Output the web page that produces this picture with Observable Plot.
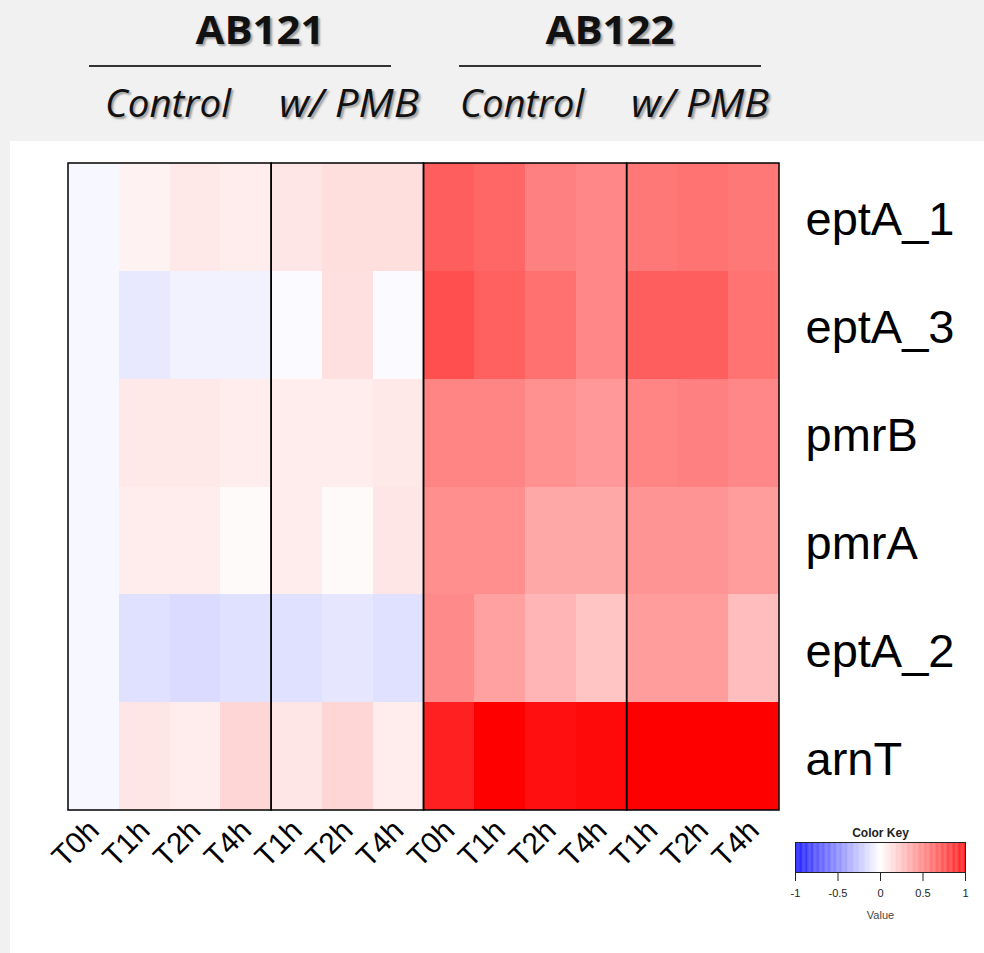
<!DOCTYPE html>
<html>
<head>
<meta charset="utf-8">
<script src="https://cdn.jsdelivr.net/npm/d3@7"></script>
<script src="https://cdn.jsdelivr.net/npm/@observablehq/plot@0.6"></script>
<style>
  html, body { margin: 0; padding: 0; background: #f1f1f1; width: 984px; height: 953px; overflow: hidden; }
  #header { position: absolute; left: 0; top: 0; }
  #header text { font-family: "Open Sans", sans-serif; fill: #111; text-shadow: 2px 2px 2px rgba(0,0,0,0.35); }
  #panel { position: absolute; left: 10px; top: 141px; width: 974px; height: 812px; background: #fff; }
  #key { position: absolute; left: 770px; top: 671px; }
</style>
</head>
<body>
<svg id="header" width="984" height="141"></svg>
<div id="panel"><div id="main"></div><div id="key"></div></div>
<script>
// ---- data ----
const strains = ["AB121", "AB122"];
const conditions = ["Control", "w/ PMB", "Control", "w/ PMB"];
const columns = ["T0h", "T1h", "T2h", "T4h", "T1h", "T2h", "T4h",
                 "T0h", "T1h", "T2h", "T4h", "T1h", "T2h", "T4h"];
const genes = ["eptA_1", "eptA_3", "pmrB", "pmrA", "eptA_2", "arnT"];
const eptA_1 = [-0.03, 0.05, 0.09, 0.07, 0.10, 0.13, 0.13, 0.63, 0.60, 0.50, 0.47, 0.53, 0.55, 0.53];
const eptA_3 = [-0.03, -0.09, -0.05, -0.05, -0.02, 0.12, -0.02, 0.69, 0.62, 0.56, 0.47, 0.63, 0.63, 0.55];
const pmrB   = [-0.03, 0.09, 0.09, 0.07, 0.07, 0.07, 0.09, 0.48, 0.48, 0.43, 0.40, 0.48, 0.50, 0.47];
const pmrA   = [-0.03, 0.07, 0.07, 0.02, 0.07, 0.02, 0.10, 0.44, 0.44, 0.34, 0.34, 0.42, 0.42, 0.39];
const eptA_2 = [-0.03, -0.12, -0.14, -0.12, -0.12, -0.10, -0.12, 0.46, 0.37, 0.29, 0.23, 0.39, 0.39, 0.26];
const arnT   = [-0.03, 0.10, 0.07, 0.16, 0.10, 0.16, 0.07, 0.87, 1.00, 0.94, 0.96, 1.00, 1.00, 1.00];
const geneValues = [eptA_1, eptA_3, pmrB, pmrA, eptA_2, arnT];
const groupStarts = [0, 4, 7, 11];
const groupEnds = [4, 7, 11, 14];
const keyTicks = [-1, -0.5, 0, 0.5, 1];

// ---- header ----
const hdr = d3.select("#header");
hdr.append("rect").attr("width", 984).attr("height", 141).attr("fill", "#f1f1f1");
const strainX = [260, 610];
strains.forEach((s, i) => {
  hdr.append("text").attr("x", strainX[i]).attr("y", 44).attr("text-anchor", "middle")
    .attr("font-size", 40).attr("font-weight", "bold")
    .attr("textLength", 129).attr("lengthAdjust", "spacingAndGlyphs").text(s);
});
[[89, 391], [459, 761]].forEach(([a, b]) => {
  hdr.append("line").attr("x1", a).attr("x2", b).attr("y1", 66).attr("y2", 66)
    .attr("stroke", "#333").attr("stroke-width", 2);
});
const condX = [168, 349, 522, 700];
const condW = [126, 140, 124, 138];
conditions.forEach((c, i) => {
  hdr.append("text").attr("x", condX[i]).attr("y", 117).attr("text-anchor", "middle")
    .attr("font-size", 38).attr("font-style", "italic")
    .attr("textLength", condW[i]).attr("lengthAdjust", "spacingAndGlyphs").text(c);
});

// ---- heatmap ----
const cells = geneValues.flatMap((vals, r) => vals.map((v, c) => ({row: r, col: c, v})));
const groups = groupStarts.map((s, i) => ({start: s, end: groupEnds[i]}));
const colorScale = {type: "linear", domain: [-1, 0, 1], range: ["blue", "white", "red"], interpolate: "rgb"};

const main = Plot.plot({
  width: 974, height: 760,
  marginLeft: 58, marginRight: 205, marginTop: 22, marginBottom: 91,
  style: {fontFamily: "'Liberation Sans', Arial, sans-serif", color: "black", background: "white"},
  x: {domain: [0, columns.length]},
  y: {domain: [0, genes.length], reverse: true},
  color: colorScale,
  marks: [
    Plot.rect(cells, {x1: "col", x2: d => d.col + 1, y1: "row", y2: d => d.row + 1, fill: "v", shapeRendering: "crispEdges"}),
    Plot.rect(groups, {x1: "start", x2: "end", y1: 0, y2: genes.length, fill: "none", stroke: "black", strokeWidth: 1.5}),
    Plot.axisX({ticks: d3.range(columns.length).map(i => i + 0.5), tickFormat: t => columns[Math.floor(t)],
      tickRotate: -45, tickSize: 0, tickPadding: 15, fontSize: 30, label: null}),
    Plot.axisY({anchor: "right", ticks: d3.range(genes.length).map(i => i + 0.5), tickFormat: t => genes[Math.floor(t)],
      tickSize: 0, tickPadding: 26, fontSize: 47, dy: 3, label: null})
  ]
});
document.getElementById("main").appendChild(main);

// ---- color key ----
const ramp = d3.range(-1, 1, 0.01);
const key = Plot.plot({
  width: 204, height: 110,
  marginLeft: 15, marginRight: 19, marginTop: 30, marginBottom: 50,
  style: {fontFamily: "'Liberation Sans', Arial, sans-serif", color: "#222", background: "transparent", overflow: "visible"},
  x: {domain: [-1, 1]},
  color: colorScale,
  marks: [
    Plot.rect(ramp, {x1: d => d, x2: d => d + 0.0101, fill: d => d + 0.005}),
    Plot.frame({stroke: "#222", strokeWidth: 1}),
    Plot.axisX({ticks: keyTicks, tickFormat: d => String(d), tickSize: 9, tickPadding: 8, fontSize: 11, label: null}),
    Plot.text(["Color Key"], {frameAnchor: "top", dy: -14, fontSize: 12, fontWeight: "bold", fill: "#222"}),
    Plot.text(["Value"], {frameAnchor: "bottom", dy: 46, fontSize: 11, fill: "#444"})
  ]
});
document.getElementById("key").appendChild(key);
</script>
</body>
</html>
